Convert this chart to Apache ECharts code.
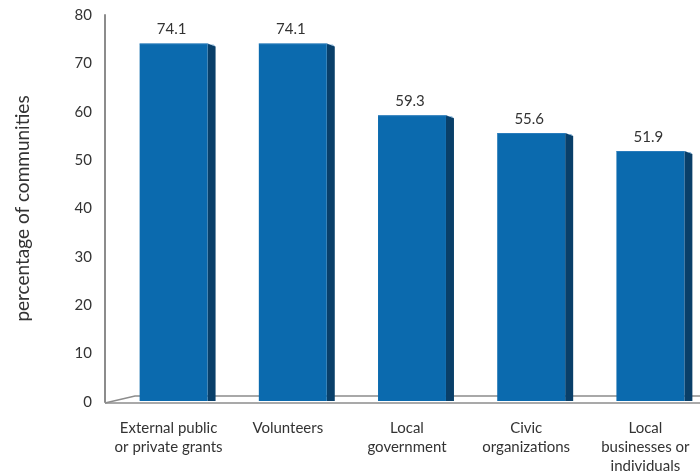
<!DOCTYPE html>
<html>
<head>
<meta charset="utf-8">
<script src="https://cdn.jsdelivr.net/npm/echarts@6/dist/echarts.min.js"></script>
<style>
  html, body { margin: 0; padding: 0; background: #fff; }
  #chart { width: 700px; height: 475px; }
</style>
</head>
<body>
<div id="chart"></div>
<script>
// Funding sources reported by communities (percent)
const categories = [
  'External public\nor private grants',
  'Volunteers',
  'Local\ngovernment',
  'Civic\norganizations',
  'Local\nbusinesses or\nindividuals'
];
const values = [74.1, 74.1, 59.3, 55.6, 51.9];
const yTicks = [0, 10, 20, 30, 40, 50, 60, 70, 80];

const FONT = 'Lato, "Open Sans", sans-serif';
const FRONT = '#0b6aae';
const SIDE = '#093f69';
const TOP = '#3d89c4';
const AXIS_GRAY = '#8c8c8c';
const DEPTH_X = 8;   // side face width
const DEPTH_Y = 3;   // perspective drop of side face
const AXIS_SHIFT = 9; // y axis sits left of the plot origin

const chart = echarts.init(document.getElementById('chart'), null, { renderer: 'canvas' });

// Draws one bar as a front face, a shaded right side and a thin top face
function renderBar(params, api) {
  const idx = api.value(0);
  const val = api.value(1);
  const top = api.coord([idx, val]);
  const base = api.coord([idx, 0]);
  const band = api.size([1, 0])[0];
  const w = band * 0.57;
  const x0 = top[0] - w / 2;
  const x1 = top[0] + w / 2;
  const yT = top[1];
  const yB = base[1] - 1;
  return {
    type: 'group',
    children: [
      {
        type: 'polygon',
        shape: { points: [[x1, yT], [x1 + DEPTH_X, yT + DEPTH_Y], [x1 + DEPTH_X, yB], [x1, yB]] },
        style: { fill: SIDE }
      },
      {
        type: 'rect',
        shape: { x: x0, y: yT, width: w, height: yB - yT },
        style: { fill: FRONT }
      },
      {
        type: 'polygon',
        shape: { points: [[x0, yT], [x1, yT], [x1 + DEPTH_X, yT + DEPTH_Y], [x1 + DEPTH_X - 2, yT + 1], [x0, yT + 1]] },
        style: { fill: TOP, opacity: 0.6 }
      },
      {
        type: 'text',
        style: {
          text: String(val),
          x: top[0] - 2,
          y: yT - 14,
          align: 'center',
          verticalAlign: 'middle',
          fill: '#333',
          font: '15px ' + FONT
        }
      }
    ]
  };
}

// Draws the thin floor plane under the bars
function renderFloor(params, api) {
  const cs = params.coordSys;
  const y0 = api.coord([0, 0])[1];
  const left = cs.x - AXIS_SHIFT;
  const right = cs.x + cs.width;
  const style = { stroke: AXIS_GRAY, lineWidth: 1.5, fill: null };
  return {
    type: 'group',
    silent: true,
    children: [
      { type: 'polyline', shape: { points: [[left, y0 + 1], [right, y0 + 1]] }, style },
      { type: 'polyline', shape: { points: [[left, y0 + 1], [left + 30, y0 - 6], [right, y0 - 6]] }, style }
    ]
  };
}

chart.setOption({
  animation: false,
  backgroundColor: '#ffffff',
  grid: { left: 114, width: 596, top: 15, bottom: 73, containLabel: false, outerBoundsMode: 'none' },
  xAxis: {
    type: 'category',
    data: categories,
    axisLine: { show: false },
    axisTick: { show: false },
    axisLabel: {
      interval: 0,
      margin: 17,
      color: '#333',
      fontFamily: FONT,
      fontSize: 15,
      lineHeight: 19,
      verticalAlign: 'top',
      padding: [0, 10, 0, 0]
    }
  },
  yAxis: {
    type: 'value',
    min: 0,
    max: 80,
    interval: 10,
    offset: AXIS_SHIFT,
    name: 'percentage of communities',
    nameLocation: 'middle',
    nameGap: 73,
    nameTextStyle: { fontFamily: FONT, fontSize: 19, color: '#333' },
    axisLine: { show: true, lineStyle: { color: AXIS_GRAY, width: 2 } },
    axisTick: { show: false },
    splitLine: { show: false },
    axisLabel: {
      margin: 13,
      color: '#333',
      fontFamily: FONT,
      fontSize: 15,
      customValues: yTicks
    }
  },
  series: [
    {
      type: 'custom',
      renderItem: renderFloor,
      data: [[0, 0]],
      silent: true,
      z: 1
    },
    {
      type: 'custom',
      renderItem: renderBar,
      data: values.map((v, i) => [i, v]),
      clip: false,
      z: 2
    }
  ]
});
</script>
</body>
</html>
